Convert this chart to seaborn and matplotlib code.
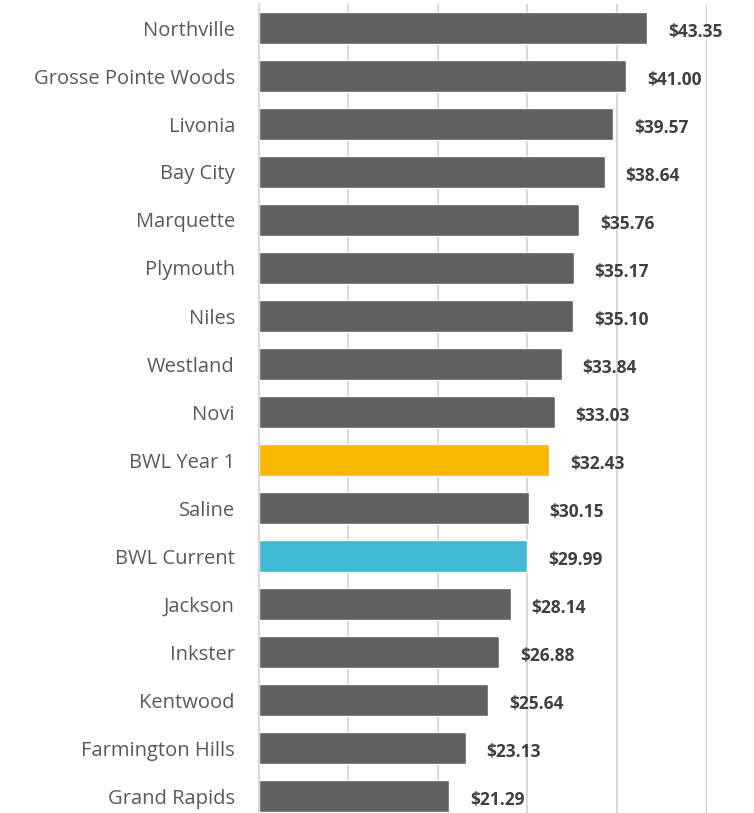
import matplotlib
matplotlib.use("Agg")
import matplotlib.pyplot as plt
import seaborn as sns

# Data
cities = ["Northville", "Grosse Pointe Woods", "Livonia", "Bay City", "Marquette",
          "Plymouth", "Niles", "Westland", "Novi", "BWL Year 1", "Saline",
          "BWL Current", "Jackson", "Inkster", "Kentwood", "Farmington Hills",
          "Grand Rapids"]
values = [43.35, 41.00, 39.57, 38.64, 35.76, 35.17, 35.10, 33.84, 33.03,
          32.43, 30.15, 29.99, 28.14, 26.88, 25.64, 23.13, 21.29]

GRAY = "#606060"
highlight = {"BWL Year 1": "#F9B800", "BWL Current": "#40BAD4"}
palette = {c: highlight.get(c, GRAY) for c in cities}

sns.set_theme(style="white")
plt.rcParams["font.family"] = ["Open Sans", "DejaVu Sans"]

fig = plt.figure(figsize=(7.54, 8.13), dpi=100)
# axes: left edge at 258px, 0..50 spans to 707px, top at 4px; runs past bottom edge
ax = fig.add_axes([258.5 / 754, (813 - 4 - 816) / 813, (706.7 - 258.5) / 754, 816 / 813])

sns.barplot(x=values, y=cities, hue=cities, palette=palette, legend=False,
            orient="h", width=0.667, saturation=1, ax=ax)

ax.set_xlim(0, 50)
ax.set_ylim(len(cities) - 0.5, -0.5)
ax.set_xticks(range(0, 51, 10))
ax.set_xticklabels([])
ax.tick_params(axis="both", length=0)
ax.xaxis.grid(True, color="#d9d9d9", linewidth=1.5)
ax.set_axisbelow(True)
for side in ["top", "right", "bottom"]:
    ax.spines[side].set_visible(False)
ax.spines["left"].set_color("#d9d9d9")
ax.spines["left"].set_linewidth(1.5)
ax.set_xlabel("")
ax.set_ylabel("")

for lbl in ax.get_yticklabels():
    lbl.set_color("#595959")
    lbl.set_fontsize(14.5)
ax.tick_params(axis="y", pad=17)

for i, v in enumerate(values):
    ax.annotate(f"${v:.2f}", xy=(v, i), xytext=(15, -3), textcoords="offset points",
                ha="left", va="center", fontsize=12.5, fontweight="bold",
                color="#404040", annotation_clip=False)

fig.savefig("out.png", dpi=100)
